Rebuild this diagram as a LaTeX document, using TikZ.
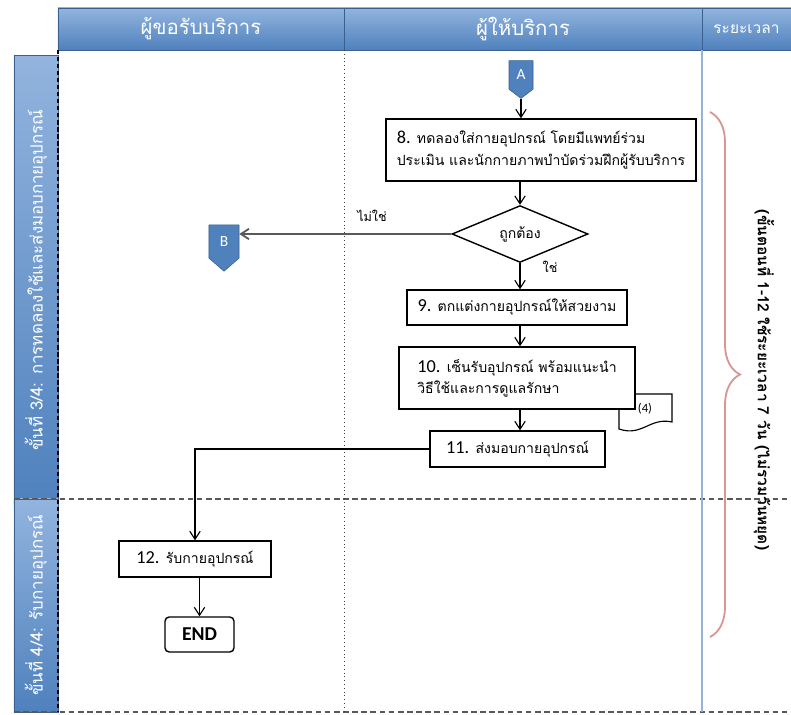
\documentclass[tikz,border=0pt]{standalone}
\usepackage{fontspec}
\setmainfont{Loma}[Script=Thai]
\newfontfamily\latinfont{Carlito}
\usepackage{tikz}
\usetikzlibrary{positioning, arrows.meta, shapes.geometric, shapes.symbols, decorations.pathreplacing}

\definecolor{hdrblue}{RGB}{79,129,189}
\definecolor{hdrlight}{RGB}{146,180,222}
\definecolor{hdrdark}{RGB}{58,96,142}
\definecolor{timeline}{RGB}{149,179,215}
\definecolor{bracered}{RGB}{217,150,148}

\newcommand{\stepno}[1]{{\latinfont\fontsize{13}{14}\selectfont #1}}

\tikzset{
  header/.style={rectangle, draw=hdrdark, line width=0.3pt, top color=hdrlight, middle color=hdrblue, bottom color=hdrblue, text=white, inner sep=0pt},
  lane/.style={rectangle, rotate=90, draw=hdrdark, line width=0.3pt, top color=hdrlight, middle color=hdrblue, bottom color=hdrblue, text=white, inner sep=0pt, font=\fontsize{12}{14}\selectfont},
  process/.style={rectangle, draw, line width=1pt, fill=white, align=left, inner sep=0pt, font=\fontsize{10}{15}\selectfont},
  decision/.style={diamond, draw, line width=1pt, fill=white, inner sep=0pt, font=\fontsize{10}{12}\selectfont},
  offpage/.style={signal, signal to=south, draw=hdrdark, line width=0.4pt, fill=hdrblue, text=white, inner sep=0pt, font=\latinfont\fontsize{11}{12}\selectfont},
  flow/.style={-{Straight Barb[length=2mm, width=2.6mm]}, line width=0.8pt},
  lanesep/.style={draw=black!65, line width=1.3pt, dash pattern=on 4pt off 2.5pt},
}

\begin{document}
\begin{tikzpicture}[x=0.025cm, y=-0.025cm]
\useasboundingbox (0,0) rectangle (791,715);

% Headers
\node[header, minimum width=7.15cm, minimum height=1.05cm, font=\fontsize{14.5}{16}\selectfont] (hclient) at (201,29) {ผู้ขอรับบริการ};
\node[header, minimum width=8.95cm, minimum height=1.05cm, font=\fontsize{14.5}{16}\selectfont] (hprovider) at (523,29) {ผู้ให้บริการ};
\node[header, minimum width=2.225cm, minimum height=1.05cm, font=\fontsize{11}{13}\selectfont] (htime) at (746.5,29) {ระยะเวลา};

% Lanes
\node[lane, minimum width=11.225cm, minimum height=1.1cm] (lane3) at (36,280) {ขั้นที่ 3/4: การทดลองใช้และส่งมอบกายอุปกรณ์};
\node[lane, minimum width=5.325cm, minimum height=1.1cm] (lane4) at (36,605.5) {ขั้นที่ 4/4: รับกายอุปกรณ์};

% Lane borders
\draw[lanesep] (14,499) -- (791,499);
\draw[lanesep] (14,712) -- (791,712);
\draw[line width=1.2pt, dash pattern=on 3pt off 2pt] (58,50) -- (58,712);
\draw[black!75, line width=0.7pt, dotted] (344,50) -- (344,712);
\draw[timeline, line width=1.5pt] (702,50) -- (702,712);

% Define nodes
\node[offpage, minimum width=0.6cm, minimum height=0.8cm, signal pointer angle=106] (conA) at (521,75) {A};
\node[process, minimum width=7.75cm, minimum height=1.55cm] (step8) at (541,150) {\stepno{8.} ทดลองใส่กายอุปกรณ์ โดยมีแพทย์ร่วม\\ประเมิน และนักกายภาพบำบัดร่วมฝึกผู้รับบริการ};
\node[decision, minimum width=3.4cm, minimum height=1.28cm] (ok) at (520,234) {ถูกต้อง};
\node[offpage, minimum width=0.75cm, minimum height=0.925cm, signal pointer angle=98] (conB) at (224,241.5) {B};
\node[process, minimum width=5.5cm, minimum height=0.875cm] (step9) at (517,307.5) {\stepno{9.} ตกแต่งกายอุปกรณ์ให้สวยงาม};

% Document behind step 10
\coordinate (docnw) at (619,394);
\coordinate (docne) at (672,394);
\coordinate (docse) at (672,422);
\coordinate (docsw) at (619,429);
\draw[line width=0.8pt, fill=white] (docnw) -- (docne) -- (docse) .. controls (650,417) and (642,437) .. (docsw) -- cycle;
\node[font=\latinfont\fontsize{9}{10}\selectfont, inner sep=1pt] (doc) at (645,409) {(4)};

\node[process, minimum width=5.9cm, minimum height=1.55cm] (step10) at (517,378) {\stepno{10.} เซ็นรับอุปกรณ์ พร้อมแนะนำ\\วิธีใช้และการดูแลรักษา};
\node[process, minimum width=4.375cm, minimum height=0.9cm] (step11) at (517.5,449) {\stepno{11.} ส่งมอบกายอุปกรณ์};
\node[process, minimum width=3.8cm, minimum height=0.9cm] (step12) at (195,559) {\stepno{12.} รับกายอุปกรณ์};
\node[rectangle, rounded corners=3pt, draw, line width=1pt, fill=white, minimum width=1.725cm, minimum height=0.875cm, font=\latinfont\bfseries\fontsize{14}{16}\selectfont] (finish) at (199.5,634.5) {END};

% Labels
\node[font=\fontsize{9}{11}\selectfont] (no) at (372,216) {ไม่ใช่};
\node[font=\fontsize{9}{11}\selectfont] (yes) at (550,267) {ใช่};

% Draw edges with arrows
\draw[flow] (conA.south) -- (conA.south |- step8.north);
\draw[flow] (ok.north |- step8.south) -- (ok.north);
\draw[flow] (ok.south) -- (ok.south |- step9.north);
\draw[flow] (ok.south |- step9.south) -- (ok.south |- step10.north);
\draw[flow] (ok.south |- step10.south) -- (ok.south |- step11.north);
\draw[flow] (step11.west) -| (step12.north);
\draw[flow] (step12.south -| finish.north) -- (finish.north);
\draw[flow, draw=black!65, line width=1.3pt] (ok.west) -- (ok.west -| conB.east);

% Time brace
\coordinate (brtop) at (710,112);
\coordinate (brbot) at (710,637);
\draw[bracered, line width=1.3pt, decorate, decoration={brace, amplitude=0.75cm}] (brtop) -- (brbot);
\node[rotate=-90, font=\bfseries\fontsize{11}{13}\selectfont] (timetxt) at (764,380) {(ขั้นตอนที่ 1-12 ใช้ระยะเวลา 7 วัน (ไม่รวมวันหยุด)};

\end{tikzpicture}
\end{document}
